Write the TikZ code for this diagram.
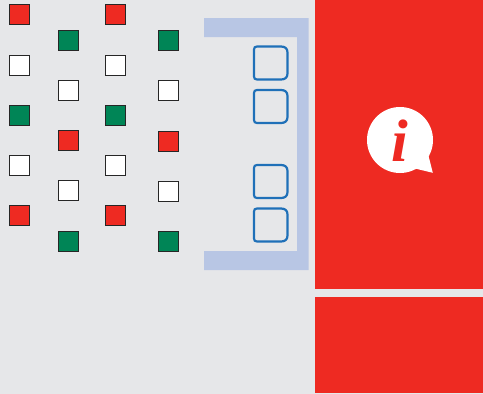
\documentclass[tikz,border=0pt]{standalone}
\usepackage{fontspec}
\setmainfont{Liberation Serif}
\usetikzlibrary{shadows}
\definecolor{bgc}{HTML}{E6E7E9}
\definecolor{redc}{HTML}{EE2A22}
\definecolor{greenc}{HTML}{008556}
\definecolor{barc}{HTML}{B8C6E4}
\definecolor{bluec}{HTML}{1F70B8}
\tikzset{
  sq/.style={draw=black!85,line width=0.9pt,minimum size=20pt,inner sep=0pt,outer sep=0pt,anchor=north west,
    drop shadow={shadow xshift=0.9pt,shadow yshift=-0.9pt,fill=black!45,opacity=0.7}},
  sqr/.style={sq,fill=redc},
  sqg/.style={sq,fill=greenc},
  sqw/.style={sq,fill=white},
  slot/.style={draw=bluec,line width=2.2pt},
  redpanel/.style={fill=redc}
}
\begin{document}
\begin{tikzpicture}[x=1pt,y=-1pt]
\useasboundingbox (0,0) rectangle (483,394);
\fill[bgc] (0,0) rectangle (483,394);
% squares
\node[sqr] (a1) at (9.5,4.5) {};
\node[sqw] (a2) at (9.5,55) {};
\node[sqg] (a3) at (9.5,105) {};
\node[sqw] (a4) at (9.5,155) {};
\node[sqr] (a5) at (9.5,205) {};
\node[sqg] (b1) at (58.5,30) {};
\node[sqw] (b2) at (58.5,80) {};
\node[sqr] (b3) at (58.5,130.5) {};
\node[sqw] (b4) at (58.5,180.5) {};
\node[sqg] (b5) at (58.5,231) {};
\node[sqr] (c1) at (105.5,4.5) {};
\node[sqw] (c2) at (105.5,55) {};
\node[sqg] (c3) at (105.5,105) {};
\node[sqw] (c4) at (105.5,155) {};
\node[sqr] (c5) at (105.5,205) {};
\node[sqg] (d1) at (158.5,30.5) {};
\node[sqw] (d2) at (158.5,80.5) {};
\node[sqr] (d3) at (158.5,131) {};
\node[sqw] (d4) at (158.5,181) {};
\node[sqg] (d5) at (158.5,231.5) {};
% bracket
\fill[barc] (204,18) -- (308.5,18) -- (308.5,270) -- (204,270) -- (204,251) -- (297,251) -- (297,37) -- (204,37) -- cycle;
% slots
\foreach \y in {46.5,90,165,208.5}{
  \draw[slot] (254,\y+3) -- (254,\y+30) .. controls (254,\y+32) and (255,\y+33) .. (257,\y+33)
    -- (281,\y+33) .. controls (285,\y+33) and (287.5,\y+31) .. (287.5,\y+27)
    -- (287.5,\y+6) .. controls (287.5,\y+2) and (285,\y) .. (281,\y)
    -- (257,\y) .. controls (255,\y) and (254,\y+1) .. (254,\y+3) -- cycle;
}
% red panels
\fill[redpanel] (315,0) rectangle (483,289);
\fill[redpanel] (315,297) rectangle (483,393);
% info icon
\fill[white] (400,140) circle[radius=33];
\fill[white] (428.3,155) -- (432.8,172.8) -- (415,168.5) -- cycle;
\node[text=redc,font=\fontsize{60}{60}\selectfont\bfseries\itshape,inner sep=0pt] (info) at (399.5,140.5) {i};
\end{tikzpicture}
\end{document}
